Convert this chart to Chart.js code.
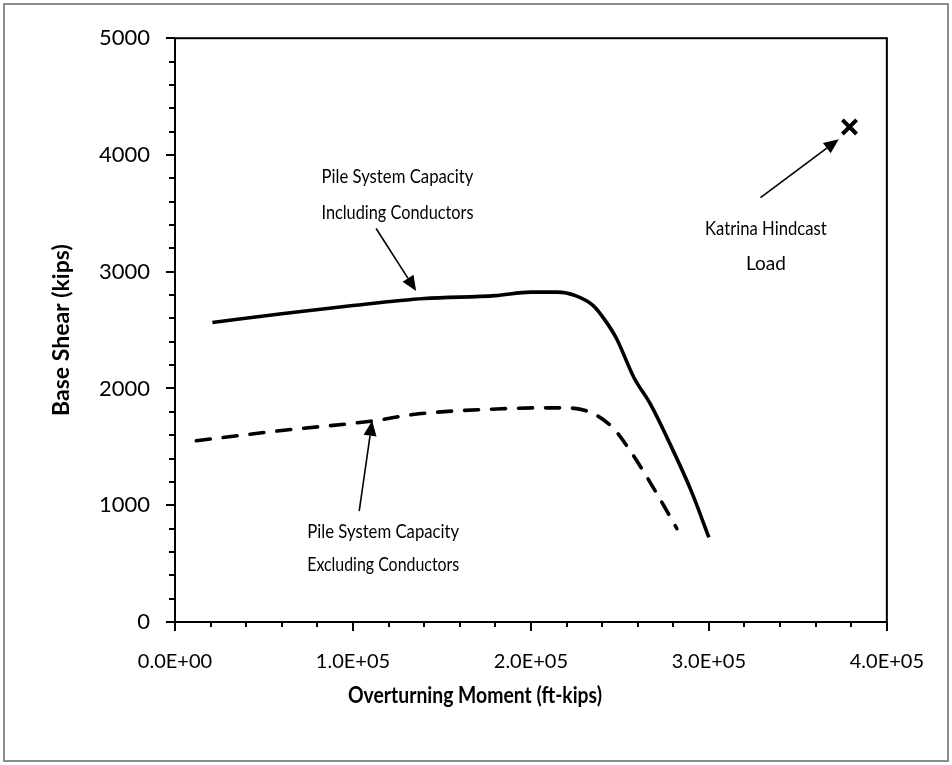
<!DOCTYPE html>
<html>
<head>
<meta charset="utf-8">
<script src="https://cdn.jsdelivr.net/npm/chart.js@4"></script>
<style>
  body { margin: 0; background: #fff; }
  canvas { display: block; }
</style>
</head>
<body>
<canvas id="capChart" width="952" height="765"></canvas>
<script>
// capacity curves (overturning moment ft-kips, base shear kips)
const incMoment = [21000, 60000, 100000, 140000, 180000, 200000, 215000, 225000, 235000, 242000, 248000, 258000, 267000, 278000, 290000, 300000];
const incShear  = [2565, 2640, 2710, 2770, 2795, 2825, 2825, 2795, 2710, 2577, 2430, 2090, 1870, 1530, 1125, 725];
const excMoment = [12000, 60000, 110000, 137000, 183500, 206000, 219000, 234000, 246000, 255700, 264000, 272000, 282000];
const excShear  = [1553, 1640, 1720, 1783, 1826, 1834, 1834, 1792, 1664, 1468, 1271, 1067, 800];
const katrinaMoment = [379000];
const katrinaShear  = [4240];

const xTickLabels = ['0.0E+00', '1.0E+05', '2.0E+05', '3.0E+05', '4.0E+05'];
const yTickLabels = ['0', '1000', '2000', '3000', '4000', '5000'];

// callouts: text lines at [x, y], arrow from tail to tip
const notes = [
    { lines: ['Pile System Capacity', 'Including Conductors'], at: [125000, 3810], gap: 36, tail: [113000, 3370], tip: [135500, 2835] },
    { lines: ['Pile System Capacity', 'Excluding Conductors'], at: [117000, 770], gap: 33, tail: [103500, 950], tip: [110800, 1724] },
    { lines: ['Katrina Hindcast', 'Load'], at: [332000, 3365], gap: 35, tail: [329000, 3635], tip: [373000, 4135] }
];

const FONT = 'Lato, "Open Sans", sans-serif';

function toPoints(xs, ys) {
    return xs.map((x, i) => ({ x: x, y: ys[i] }));
}

const decorations = {
    id: 'decorations',
    beforeDraw(chart) {
        const ctx = chart.ctx;
        ctx.save();
        ctx.fillStyle = '#fff';
        ctx.fillRect(0, 0, chart.width, chart.height);
        ctx.strokeStyle = '#8c8c8c';
        ctx.lineWidth = 2;
        ctx.strokeRect(4, 4, chart.width - 8, chart.height - 8);
        ctx.restore();
    },
    afterDraw(chart) {
        const ctx = chart.ctx;
        const a = chart.chartArea;
        const xs = chart.scales.x, ys = chart.scales.y;
        ctx.save();
        ctx.strokeStyle = '#000';
        ctx.lineWidth = 2;
        ctx.strokeRect(a.left, a.top, a.right - a.left, a.bottom - a.top);

        // tick marks, long ones at labelled values
        ctx.beginPath();
        xs.ticks.forEach(t => {
            const px = Math.round(xs.getPixelForValue(t.value));
            const len = t.value % 100000 === 0 ? 9 : 5;
            ctx.moveTo(px, a.bottom);
            ctx.lineTo(px, a.bottom + len);
        });
        ys.ticks.forEach(t => {
            const py = Math.round(ys.getPixelForValue(t.value));
            const len = t.value % 1000 === 0 ? 9 : 6;
            ctx.moveTo(a.left, py);
            ctx.lineTo(a.left - len, py);
        });
        ctx.stroke();

        // axis titles
        ctx.fillStyle = '#000';
        ctx.textAlign = 'center';
        ctx.textBaseline = 'middle';
        ctx.font = 'bold 22px ' + FONT;
        ctx.fillText('Overturning Moment (ft-kips)', 475, 696, 254);
        ctx.save();
        ctx.translate(62, (a.top + a.bottom) / 2);
        ctx.rotate(-Math.PI / 2);
        ctx.font = 'bold 23px ' + FONT;
        ctx.fillText('Base Shear (kips)', 0, 0, 200);
        ctx.restore();

        // callouts
        ctx.font = '19px ' + FONT;
        notes.forEach(n => {
            const cx = xs.getPixelForValue(n.at[0]);
            const cy = ys.getPixelForValue(n.at[1]);
            n.lines.forEach((s, i) => {
                if (s.length > 10) ctx.fillText(s, cx, cy + i * n.gap, s.length * 7.6);
                else ctx.fillText(s, cx, cy + i * n.gap);
            });
            const x0 = xs.getPixelForValue(n.tail[0]), y0 = ys.getPixelForValue(n.tail[1]);
            const x1 = xs.getPixelForValue(n.tip[0]), y1 = ys.getPixelForValue(n.tip[1]);
            const ang = Math.atan2(y1 - y0, x1 - x0);
            const head = 15, half = 6.5;
            ctx.lineWidth = 1.6;
            ctx.beginPath();
            ctx.moveTo(x0, y0);
            ctx.lineTo(x1 - head * Math.cos(ang), y1 - head * Math.sin(ang));
            ctx.stroke();
            ctx.beginPath();
            ctx.moveTo(x1, y1);
            ctx.lineTo(x1 - head * Math.cos(ang) + half * Math.sin(ang), y1 - head * Math.sin(ang) - half * Math.cos(ang));
            ctx.lineTo(x1 - head * Math.cos(ang) - half * Math.sin(ang), y1 - head * Math.sin(ang) + half * Math.cos(ang));
            ctx.closePath();
            ctx.fill();
        });
        ctx.restore();
    }
};

const ctx = document.getElementById('capChart').getContext('2d');
new Chart(ctx, {
    type: 'scatter',
    data: {
        datasets: [
            {
                label: 'Including Conductors',
                data: toPoints(incMoment, incShear),
                showLine: true,
                borderColor: '#000',
                borderWidth: 3.6,
                pointRadius: 0,
                cubicInterpolationMode: 'monotone'
            },
            {
                label: 'Excluding Conductors',
                data: toPoints(excMoment, excShear),
                showLine: true,
                borderColor: '#000',
                borderWidth: 3.6,
                borderDash: [14, 13],
                borderCapStyle: 'round',
                pointRadius: 0,
                cubicInterpolationMode: 'monotone'
            },
            {
                label: 'Katrina Hindcast Load',
                data: toPoints(katrinaMoment, katrinaShear),
                showLine: false,
                pointStyle: 'crossRot',
                pointRadius: 10,
                borderColor: '#000',
                borderWidth: 4
            }
        ]
    },
    options: {
        responsive: false,
        animation: false,
        layout: { padding: { top: 36, right: 62, left: 0, bottom: 0 } },
        plugins: {
            legend: { display: false },
            tooltip: { enabled: false }
        },
        scales: {
            x: {
                type: 'linear',
                min: 0,
                max: 400000,
                afterFit: s => { s.height = 143; },
                grid: { display: false, drawTicks: false },
                border: { display: false },
                ticks: {
                    stepSize: 20000,
                    autoSkip: false,
                    maxRotation: 0,
                    padding: 28,
                    color: '#000',
                    font: { family: FONT, size: 20 },
                    callback: v => v % 100000 === 0 ? xTickLabels[v / 100000] : ''
                }
            },
            y: {
                type: 'linear',
                min: 0,
                max: 5000,
                afterFit: s => { s.width = 175; },
                grid: { display: false, drawTicks: false },
                border: { display: false },
                ticks: {
                    stepSize: 200,
                    autoSkip: false,
                    padding: 25,
                    color: '#000',
                    font: { family: FONT, size: 22 },
                    callback: v => v % 1000 === 0 ? yTickLabels[v / 1000] : ''
                }
            }
        }
    },
    plugins: [decorations]
});
</script>
</body>
</html>
